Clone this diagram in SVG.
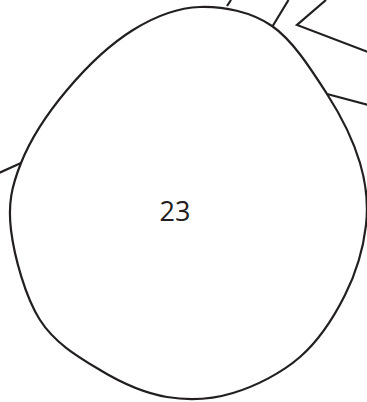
<svg xmlns="http://www.w3.org/2000/svg" width="367" height="402" viewBox="0 0 367 402">
<style>
.ln{fill:none;stroke:#231f20;stroke-width:2.2;stroke-linejoin:miter}
.lbl{font-family:"Open Sans","Liberation Sans",sans-serif;font-size:27px;fill:#231f20;text-anchor:middle}
</style>
<rect width="367" height="402" fill="#fff"/>
<g id="connectors">
<path class="ln" d="M227,6 L231,0"/>
<path class="ln" d="M272.7,26 L288.5,0"/>
<path class="ln" d="M326,0 L297,25 L368,52"/>
<path class="ln" d="M327,94 L368,105"/>
<path class="ln" d="M-1,173 L21,163"/>
</g>
<g id="node23">
<path class="ln" d="M200,7 C223.2,6.3 250.8,11.5 272,26 C293.2,40.5 312.3,71.2 327,94 C341.7,116.8 353.5,141.2 360,163 C366.5,184.8 368.5,203 366,225 C363.5,247 356,273 345,295 C334,317 318.7,340.7 300,357 C281.3,373.3 255.2,386.3 233,393 C210.8,399.7 189.2,400.8 167,397 C144.8,393.2 121.2,382.8 100,370 C78.8,357.2 54.8,343.3 40,320 C25.2,296.7 14.2,256.2 11,230 C7.8,203.8 11.7,186.3 21,163 C30.3,139.7 48.3,112.2 67,90 C85.7,67.8 110.8,43.8 133,30 C155.2,16.2 176.8,7.7 200,7 Z"/>
<text class="lbl" x="175" y="221">23</text>
</g>
</svg>
